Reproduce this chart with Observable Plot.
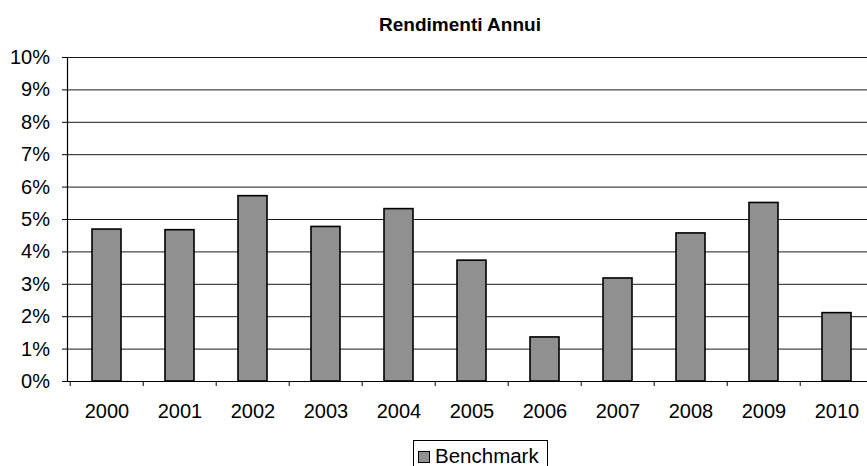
<!DOCTYPE html>
<html>
<head>
<meta charset="utf-8">
<script src="https://cdn.jsdelivr.net/npm/d3@7"></script>
<script src="https://cdn.jsdelivr.net/npm/@observablehq/plot@0.6"></script>
<style>
  html, body { margin: 0; padding: 0; background: #fff; }
  #wrap { position: relative; width: 867px; height: 466px; overflow: hidden; font-family: "Liberation Sans", Arial, sans-serif; background: #fff; }
  #wrap svg { position: absolute; left: 0; top: 0; }
  #title { position: absolute; left: 0; width: 920px; top: 15px; text-align: center; font-weight: bold; font-size: 19px; line-height: 1; color: #000; }
  #legend { position: absolute; left: 413px; top: 440px; width: 135px; height: 40px; border: 1px solid #000; background: #fff; box-sizing: border-box; }
  #legend .sw { position: absolute; left: 4px; top: 10px; width: 10px; height: 10px; border: 1px solid #000; background: #909090; }
  #legend .lb { position: absolute; left: 21px; top: 5px; font-size: 20.5px; line-height: 20px; color: #000; white-space: nowrap; }
</style>
</head>
<body>
<div id="wrap">
  <div id="title">Rendimenti Annui</div>
  <div id="legend"><div class="sw"></div><div class="lb">Benchmark</div></div>
</div>
<script>
const title = "Rendimenti Annui";
const seriesName = "Benchmark";
const years = ["2000","2001","2002","2003","2004","2005","2006","2007","2008","2009","2010"];
const benchmark = [0.0469, 0.0467, 0.0572, 0.0477, 0.0532, 0.0373, 0.0136, 0.0318, 0.0457, 0.0551, 0.0211];
const yTicks = [0, 0.01, 0.02, 0.03, 0.04, 0.05, 0.06, 0.07, 0.08, 0.09, 0.10];

const data = years.map((y, i) => ({year: y, value: benchmark[i]}));

const left = 67, rightEnd = 876.6;
const step = (rightEnd - left) / years.length;

const chart = Plot.plot({
  width: 867,
  height: 466,
  marginLeft: left,
  marginRight: 0,
  marginTop: 57,
  marginBottom: 85,
  style: {fontFamily: "'Liberation Sans', Arial, sans-serif", fontSize: "20px", color: "#000", background: "transparent", overflow: "hidden"},
  x: {type: "band", domain: years, range: [left, rightEnd], paddingInner: 0.6, paddingOuter: 0.3, label: null, axis: null},
  y: {domain: [0, 0.10], label: null},
  marks: [
    Plot.ruleY(yTicks.filter(d => d > 0), {stroke: "#1a1a1a", strokeWidth: 1}),
    Plot.rectY(data, {x: "year", y: "value", fill: "#909090", stroke: "#000", strokeWidth: 1.6}),
    Plot.ruleY([0], {stroke: "#000", strokeWidth: 1}),
    Plot.frame({anchor: "left", stroke: "#000", strokeWidth: 1.2}),
    Plot.axisY({ticks: yTicks, tickFormat: d => Math.round(d * 100) + "%", tickSize: 5, tickPadding: 12.5, fontSize: 20, stroke: "#000", fill: "#000", label: null}),
    Plot.axisX({tickSize: 5, tickFormat: () => "", dx: -step / 2, stroke: "#000", label: null}),
    Plot.axisX({tickSize: 0, tickPadding: 22, fontSize: 20, fill: "#000", label: null})
  ]
});
document.getElementById("wrap").prepend(chart);
</script>
</body>
</html>
